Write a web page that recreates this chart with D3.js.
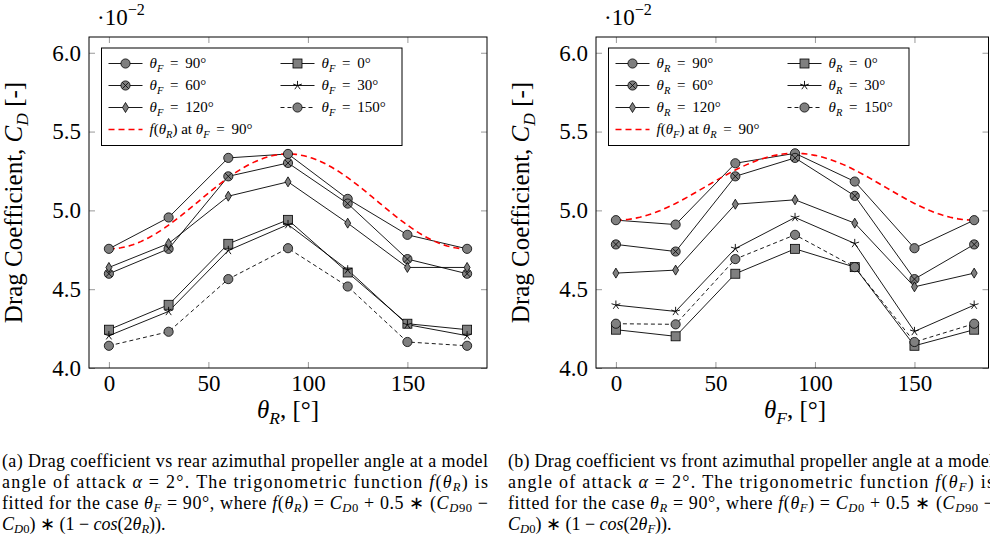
<!DOCTYPE html>
<html><head><meta charset="utf-8">
<script src="https://cdn.jsdelivr.net/npm/d3@7"></script>
<style>body{margin:0;background:#fff}svg{display:block}</style>
</head><body>
<svg id="chart" width="990" height="537"></svg>
<script>
// ---------- data ----------
const thetaValues = [0, 30, 60, 90, 120, 150, 180];
const xTicks = [0, 50, 100, 150];
const yTicks = [4.0, 4.5, 5.0, 5.5, 6.0];
const seriesAngles = [90, 60, 120, 0, 30, 150];
// left: C_D (x10^-2) vs theta_R for several theta_F
const cdRearF90  = [4.756, 4.955, 5.333, 5.358, 5.073, 4.845, 4.756];
const cdRearF60  = [4.598, 4.756, 5.216, 5.301, 5.043, 4.691, 4.598];
const cdRearF120 = [4.638, 4.790, 5.090, 5.181, 4.919, 4.638, 4.638];
const cdRearF0   = [4.243, 4.401, 4.788, 4.940, 4.606, 4.281, 4.243];
const cdRearF30  = [4.205, 4.359, 4.746, 4.910, 4.623, 4.275, 4.205];
const cdRearF150 = [4.141, 4.230, 4.564, 4.760, 4.517, 4.165, 4.141];
// right: C_D (x10^-2) vs theta_F for several theta_R
const cdFrontR90  = [4.938, 4.910, 5.299, 5.362, 5.183, 4.760, 4.938];
const cdFrontR60  = [4.784, 4.739, 5.216, 5.333, 5.092, 4.564, 4.784];
const cdFrontR120 = [4.602, 4.621, 5.039, 5.067, 4.919, 4.515, 4.602];
const cdFrontR0   = [4.243, 4.201, 4.598, 4.756, 4.640, 4.141, 4.243];
const cdFrontR30  = [4.399, 4.359, 4.758, 4.955, 4.790, 4.232, 4.399];
const cdFrontR150 = [4.281, 4.277, 4.691, 4.845, 4.640, 4.165, 4.281];

const FONT = "'Liberation Serif','Times New Roman',serif";
const svg = d3.select('#chart');

// rich text helper: segments {t, i:italic, sub:subscript, sup:superscript}
function rich(text, segs, size, subShift) {
  let off = 0;
  const sh = subShift === undefined ? 0.3 : subShift;
  segs.forEach(s => {
    const ts = text.append('tspan').text(s.t);
    if (s.i) ts.attr('font-style', 'italic');
    let target = 0, fs = size;
    if (s.sub) { target = size * sh; fs = size * 0.7; }
    if (s.sup) { target = -size * 0.45; fs = size * 0.7; }
    if (target !== off) { ts.attr('dy', target - off); off = target; }
    ts.attr('font-size', fs);
  });
  return text;
}

function drawMarker(g, type, cx, cy) {
  const m = g.append('g').attr('transform', `translate(${cx},${cy})`);
  const fill = '#7f7f7f', st = '#000', sw = 0.8, r = 4.6;
  if (type === 'circle') {
    m.append('circle').attr('r', r).attr('fill', fill).attr('stroke', st).attr('stroke-width', sw);
  } else if (type === 'otimes') {
    m.append('circle').attr('r', r).attr('fill', fill).attr('stroke', st).attr('stroke-width', sw);
    const d = r * 0.7071;
    m.append('path').attr('d', `M${-d},${-d}L${d},${d}M${-d},${d}L${d},${-d}`)
      .attr('stroke', st).attr('stroke-width', sw);
  } else if (type === 'square') {
    m.append('rect').attr('x', -4.5).attr('y', -4.5).attr('width', 9).attr('height', 9)
      .attr('fill', fill).attr('stroke', st).attr('stroke-width', sw);
  } else if (type === 'diamond') {
    m.append('path').attr('d', 'M0,-5L3,0L0,5L-3,0Z')
      .attr('fill', fill).attr('stroke', st).attr('stroke-width', sw);
  } else if (type === 'star') {
    let d = '';
    for (let k = 0; k < 5; k++) {
      const a = -Math.PI / 2 + k * 2 * Math.PI / 5;
      d += `M0,0L${(4.6 * Math.cos(a)).toFixed(2)},${(4.6 * Math.sin(a)).toFixed(2)}`;
    }
    m.append('path').attr('d', d).attr('stroke', st).attr('stroke-width', 0.9).attr('fill', 'none');
  }
}

const marks = ['circle', 'otimes', 'diamond', 'square', 'star', 'circle'];
const dashes = [null, null, null, null, null, '4,3'];

function panel(cfg) {
  const x = d3.scaleLinear().domain([-10, cfg.xmax]).range([cfg.left, cfg.right]);
  const y = d3.scaleLinear().domain([4, 6.1]).range([368, 37]);
  const g = svg.append('g');

  // ticks
  const tickStyle = sel => {
    sel.select('.domain').remove();
    sel.selectAll('.tick line').attr('stroke', '#999').attr('stroke-width', 1);
    sel.selectAll('.tick text').attr('font-family', FONT).attr('font-size', 23).attr('fill', '#000');
  };
  g.append('g').attr('transform', `translate(0,${y(4)})`)
    .call(d3.axisBottom(x).tickValues(xTicks).tickSizeInner(-6).tickSizeOuter(0).tickPadding(7))
    .call(tickStyle);
  g.append('g').attr('transform', `translate(0,${y(6.1)})`)
    .call(d3.axisTop(x).tickValues(xTicks).tickSizeInner(-6).tickSizeOuter(0).tickFormat(''))
    .call(tickStyle);
  g.append('g').attr('transform', `translate(${cfg.left},0)`)
    .call(d3.axisLeft(y).tickValues(yTicks).tickSizeInner(-6).tickSizeOuter(0).tickPadding(8).tickFormat(d3.format('.1f')))
    .call(tickStyle);
  g.append('g').attr('transform', `translate(${cfg.right},0)`)
    .call(d3.axisRight(y).tickValues(yTicks).tickSizeInner(-6).tickSizeOuter(0).tickFormat(''))
    .call(tickStyle);

  // frame
  g.append('rect').attr('x', cfg.left).attr('y', y(6.1)).attr('width', cfg.right - cfg.left)
    .attr('height', y(4) - y(6.1)).attr('fill', 'none').attr('stroke', '#000').attr('stroke-width', 1);

  // fitted curve f = C_D0 + 0.5 (C_D90 - C_D0)(1 - cos 2θ), from the 90° series
  const c0 = cfg.series[0][0], c90 = cfg.series[0][3];
  const fit = d3.range(0, 181, 2).map(t => [t, c0 + 0.5 * (c90 - c0) * (1 - Math.cos(2 * t * Math.PI / 180))]);
  const line = d3.line().x(d => x(d[0])).y(d => y(d[1]));

  cfg.series.forEach((vals, i) => {
    const pts = vals.map((v, j) => [thetaValues[j], v]);
    g.append('path').attr('d', line(pts)).attr('fill', 'none').attr('stroke', '#000')
      .attr('stroke-width', 0.9).attr('stroke-dasharray', dashes[i]);
  });
  g.append('path').attr('d', line(fit)).attr('fill', 'none').attr('stroke', '#ff0000')
    .attr('stroke-width', 1.6).attr('stroke-dasharray', '6,4');
  cfg.series.forEach((vals, i) => {
    vals.forEach((v, j) => drawMarker(g, marks[i], x(thetaValues[j]), y(v)));
  });

  // legend
  const lx = cfg.left + 12.5, ly = 48, lw = 300.5, lh = 97.5;
  const lg = g.append('g');
  lg.append('rect').attr('x', lx).attr('y', ly).attr('width', lw).attr('height', lh)
    .attr('fill', '#fff').attr('stroke', '#000').attr('stroke-width', 1);
  const order = [[0, 0], [3, 1], [1, 0], [4, 1], [2, 0], [5, 1]];
  const rowY = [63.5, 85.5, 107.5, 129.5];
  const LF = 15;
  order.forEach(([si, col], k) => {
    const row = Math.floor(k / 2);
    const x0 = lx + 7 + col * 172, yy = rowY[row];
    lg.append('line').attr('x1', x0).attr('x2', x0 + 34).attr('y1', yy).attr('y2', yy)
      .attr('stroke', '#000').attr('stroke-width', 0.9).attr('stroke-dasharray', dashes[si]);
    drawMarker(lg, marks[si], x0 + 17, yy);
    const t = lg.append('text').attr('x', x0 + 41).attr('y', yy + 4.5)
      .attr('font-family', FONT).attr('font-size', LF);
    rich(t, [{t: 'θ', i: true}, {t: cfg.legVar, i: true, sub: true}, {t: ' \u2009=\u2009 ' + seriesAngles[si] + '°'}], LF, 0.25);
  });
  const yy = rowY[3], x0 = lx + 7;
  lg.append('line').attr('x1', x0).attr('x2', x0 + 34).attr('y1', yy).attr('y2', yy)
    .attr('stroke', '#ff0000').attr('stroke-width', 1.6).attr('stroke-dasharray', '6,4');
  const tf = lg.append('text').attr('x', x0 + 41).attr('y', yy + 4.5)
    .attr('font-family', FONT).attr('font-size', LF);
  rich(tf, [{t: 'f', i: true}, {t: '('}, {t: 'θ', i: true}, {t: cfg.fitVar, i: true, sub: true},
            {t: ')  at  '}, {t: 'θ', i: true}, {t: cfg.legVar, i: true, sub: true}, {t: ' \u2009=\u2009 90°'}], LF, 0.25);

  // multiplier
  const mt = g.append('text').attr('x', cfg.left + 8).attr('y', 25)
    .attr('font-family', FONT).attr('font-size', 23);
  rich(mt, [{t: '·10'}, {t: '−2', sup: true}], 23);

  // axis labels
  const yl = g.append('text').attr('transform', `translate(${cfg.left - 67},${(y(4) + y(6.1)) / 2}) rotate(-90)`)
    .attr('text-anchor', 'middle').attr('font-family', FONT).attr('font-size', 25);
  rich(yl, [{t: 'Drag Coefficient, '}, {t: 'C', i: true}, {t: 'D', i: true, sub: true}, {t: ' [-]'}], 25, 0.25);
  const xl = g.append('text').attr('x', x(90)).attr('y', 418)
    .attr('text-anchor', 'middle').attr('font-family', FONT).attr('font-size', 25);
  rich(xl, [{t: 'θ', i: true}, {t: cfg.fitVar, i: true, sub: true}, {t: ', [°]'}], 25, 0.25);

  // caption
  const cs = 18, cx = cfg.capX, lines = cfg.caption, base = [467, 488, 509, 529.5];
  lines.forEach((segs, k) => {
    const t = svg.append('text').attr('x', cx).attr('y', base[k])
      .attr('font-family', FONT).attr('font-size', cs);
    if (k < 3) t.attr('textLength', 486).attr('lengthAdjust', 'spacing');
    rich(t, segs, cs, 0.17);
  });
}

function caption(letter, dir, v, o) {
  return [
    [{t: `(${letter}) Drag coefficient vs ${dir} azimuthal propeller angle at a model`}],
    [{t: 'angle of attack '}, {t: 'α', i: true}, {t: ' = 2°.  The trigonometric function '},
     {t: 'f', i: true}, {t: '('}, {t: 'θ', i: true}, {t: v, i: true, sub: true}, {t: ') is'}],
    [{t: 'fitted for the case '}, {t: 'θ', i: true}, {t: o, i: true, sub: true}, {t: ' = 90°, where '},
     {t: 'f', i: true}, {t: '('}, {t: 'θ', i: true}, {t: v, i: true, sub: true}, {t: ') = '},
     {t: 'C', i: true}, {t: 'D', i: true, sub: true}, {t: '0', sub: true}, {t: ' + 0.5 ∗ ('},
     {t: 'C', i: true}, {t: 'D', i: true, sub: true}, {t: '90', sub: true}, {t: ' −'}],
    [{t: 'C', i: true}, {t: 'D', i: true, sub: true}, {t: '0', sub: true}, {t: ') ∗ (1 − '},
     {t: 'cos', i: true}, {t: '(2'}, {t: 'θ', i: true}, {t: v, i: true, sub: true}, {t: ')).'}]
  ];
}

panel({left: 89, right: 487, xmax: 190, legVar: 'F', fitVar: 'R', capX: 2,
  series: [cdRearF90, cdRearF60, cdRearF120, cdRearF0, cdRearF30, cdRearF150],
  caption: caption('a', 'rear', 'R', 'F')});
panel({left: 596, right: 988.5, xmax: 187.2, legVar: 'R', fitVar: 'F', capX: 508,
  series: [cdFrontR90, cdFrontR60, cdFrontR120, cdFrontR0, cdFrontR30, cdFrontR150],
  caption: caption('b', 'front', 'F', 'R')});
</script>
</body></html>
